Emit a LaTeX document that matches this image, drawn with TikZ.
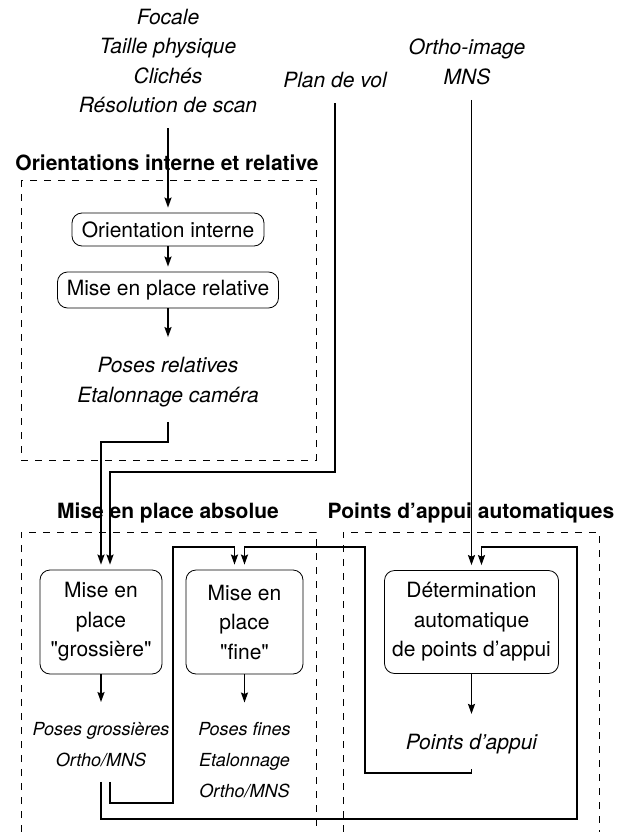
\documentclass[tikz,border=0pt]{standalone}
\usepackage{fontspec}
\setmainfont{TeX Gyre Heros}
\usepackage{tikz}
\usetikzlibrary{arrows.meta,positioning}

\newcommand{\diagfont}{\fontsize{21}{29.5}\selectfont}
\newcommand{\smalldiagfont}{\fontsize{18}{31}\selectfont}

\begin{document}
\begin{tikzpicture}[x=1pt,y=-1pt,on grid,
    >={Stealth[length=10pt,width=7pt,inset=1.5pt]},
    proc/.style={draw,rounded corners=10pt,line width=0.8pt,inner sep=0pt,align=center,font=\diagfont},
    data/.style={inner xsep=0pt,inner ysep=15pt,align=center,font=\diagfont\itshape},
    title/.style={inner sep=0pt,font=\diagfont\bfseries},
    group/.style={draw,dash pattern=on 7pt off 7pt,line width=0.8pt},
    link/.style={->,line width=1.6pt,shorten >=5pt}]
    \useasboundingbox (0,0) rectangle (629,832);

    % dashed groups
    \draw[group] (21,180) rectangle (316,460);
    \draw[group] (21,832) |- (316,532) -- (316,832);
    \draw[group] (343,832) |- (599,532) -- (599,832);

    % inputs
    \node[data] (inputs) at (168,61) {Focale\\Taille physique\\Clichés\\Résolution de scan};
    \node[data] (flight) at (335,80) {Plan de vol};
    \node[data] (ortho)  at (467,62) {Ortho-image\\MNS};

    % titles
    \node[title] (t_orient) at (167,163) {Orientations interne et relative};
    \node[title] (t_abs)    at (168,513) {Mise en place absolue};
    \node[title] (t_gcp)    at (471,513) {Points d’appui automatiques};

    % orientations
    \node[proc,minimum width=192pt,minimum height=33pt] (oi) at (168,229.5) {Orientation interne};
    \node[proc,minimum width=221pt,minimum height=36pt] (mepr) [below=60.5pt of oi] {Mise en place relative};
    \node[data] (posrel) [below=92pt of mepr] {Poses relatives\\Etalonnage caméra};

    % absolute + control points
    \node[proc,minimum width=122pt,minimum height=104pt] (gross) at (101,622) {Mise en\\place\\\textquotedbl grossière\textquotedbl};
    \node[proc,minimum width=117pt,minimum height=104pt] (fine) [right=143.5pt of gross] {Mise en\\place\\\textquotedbl fine\textquotedbl};
    \node[proc,minimum width=174pt,minimum height=103pt] (det) [right=370.5pt of gross] {Détermination\\automatique\\de points d’appui};
    \node[data,font=\smalldiagfont\itshape] (posgr)  [below=122.5pt of gross] {Poses grossières\\Ortho/MNS};
    \node[data,font=\smalldiagfont\itshape] (posfin) [below=138.5pt of fine] {Poses fines\\Etalonnage\\Ortho/MNS};
    \node[data] (pts)    [below=122pt of det] {Points d’appui};

    \coordinate (bendrel) at (168,442);
    \coordinate (bendflight) at (335,472);
    \coordinate (loopa) at (173,803);
    \coordinate (topa) at (173,547);
    \coordinate (loopb) at (365,773);
    \coordinate (topb) at (365,547);
    \coordinate (loopc) at (577,819);
    \coordinate (topc) at (577,547);

    \draw[link] (inputs.south) -- (oi.north);
    \draw[link] (oi.south) -- (mepr.north);
    \draw[link] (mepr.south) -- (posrel.north);
    \draw[link] (gross.south) -- (posgr.north);
    \draw[link] (fine.south) -- (posfin.north);
    \draw[link] (det.south) -- (pts.north);
    \draw[link] (ortho.south -| det.north) -- (det.north);

    \draw[link] (posrel.south) -- (bendrel) -| (gross.north);
    \draw[link] (flight.south) -- (bendflight) -| ([xshift=9pt]gross.north);
    \draw[link] ([xshift=9pt]posgr.south) |- (loopa) -- (topa) -| ([xshift=-10pt]fine.north);
    \draw[link] (pts.south) |- (loopb) -- (topb) -| (fine.north);
    \draw[link] (posgr.south) |- (loopc) -- (topc) -| ([xshift=10pt]det.north);
\end{tikzpicture}
\end{document}
